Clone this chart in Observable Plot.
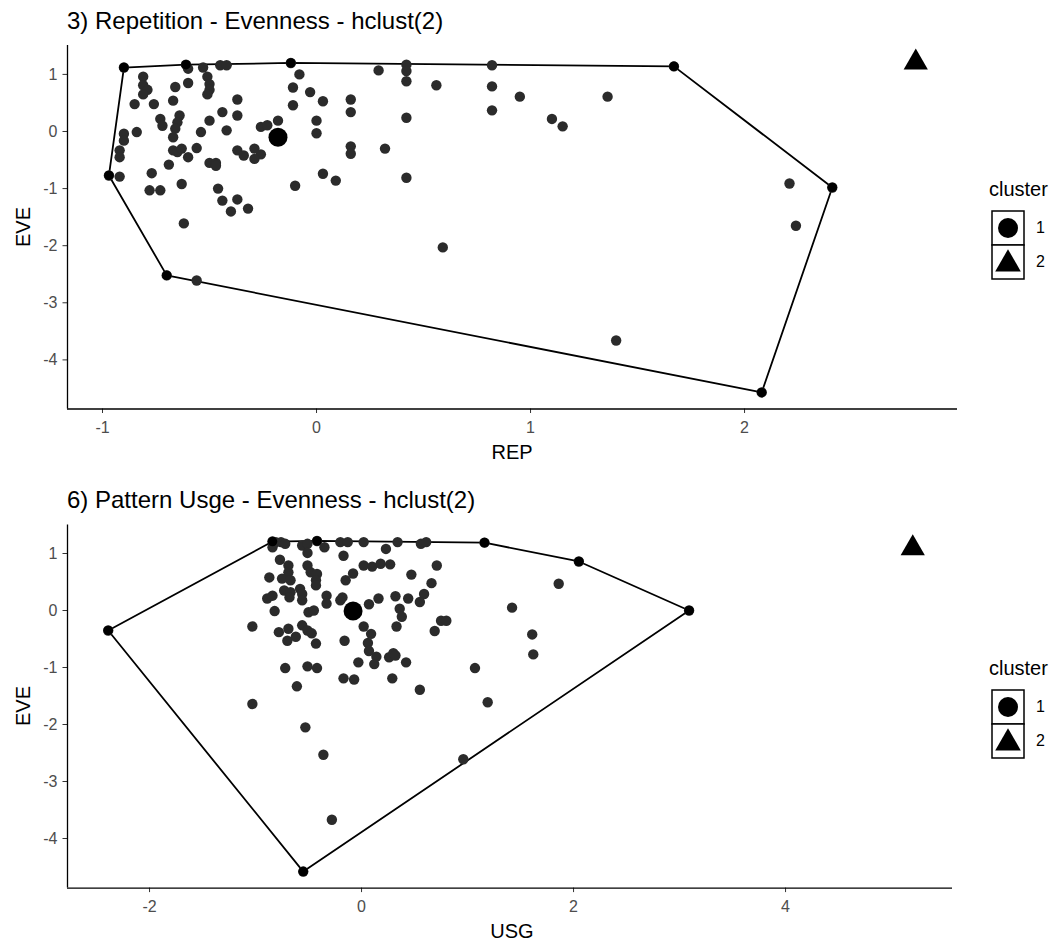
<!DOCTYPE html>
<html><head><meta charset="utf-8">
<script src="https://cdn.jsdelivr.net/npm/d3@7"></script>
<script src="https://cdn.jsdelivr.net/npm/@observablehq/plot@0.6"></script>
<style>
body{margin:0;background:#fff;font-family:"Liberation Sans",Arial,sans-serif;}
#root{position:relative;width:1056px;height:945px;overflow:hidden;background:#fff}
.abs{position:absolute;white-space:nowrap;line-height:1;color:#000}
</style></head><body><div id="root"></div>
<script>
// ---------- Panel 3: Repetition (REP) vs Evenness (EVE) ----------
const repTitle = "3) Repetition - Evenness - hclust(2)";
const repXLabel = "REP";
const repYLabel = "EVE";
const repXTicks = [-1, 0, 1, 2];
const repYTicks = [-4, -3, -2, -1, 0, 1];
const repCluster1 = [
  [-0.90,1.12],[-0.61,1.17],[-0.60,1.10],[-0.53,1.12],[-0.45,1.16],[-0.42,1.16],[-0.12,1.20],
  [-0.81,0.96],[-0.81,0.81],[-0.79,0.73],[-0.81,0.65],[-0.85,0.48],[-0.76,0.48],[-0.66,0.78],[-0.60,0.85],[-0.67,0.54],
  [-0.51,0.96],[-0.50,0.83],[-0.50,0.73],[-0.51,0.65],
  [-0.08,1.00],[-0.11,0.77],[-0.03,0.69],[0.03,0.53],[0.16,0.56],[0.16,0.34],[-0.11,0.46],
  [-0.37,0.56],[-0.44,0.34],[-0.37,0.28],[-0.50,0.19],[-0.73,0.22],[-0.72,0.10],
  [-0.64,0.28],[-0.65,0.16],[-0.66,0.05],[-0.67,-0.10],
  [-0.84,-0.01],[-0.90,-0.04],[-0.90,-0.16],[-0.92,-0.33],[-0.92,-0.45],[-0.97,-0.77],[-0.92,-0.79],
  [-0.54,-0.01],[-0.42,0.02],[-0.26,0.08],[-0.23,0.11],[-0.18,0.19],
  [0.00,0.19],[0.00,-0.03],[0.16,-0.26],[0.16,-0.39],
  [-0.67,-0.33],[-0.65,-0.36],[-0.63,-0.30],[-0.60,-0.45],[-0.56,-0.29],[-0.69,-0.58],
  [-0.50,-0.55],[-0.47,-0.55],[-0.47,-0.60],[-0.37,-0.33],[-0.34,-0.42],[-0.29,-0.30],[-0.26,-0.40],[-0.29,-0.48],
  [-0.77,-0.73],[-0.78,-1.03],[-0.73,-1.03],[-0.63,-0.92],[-0.46,-1.00],[-0.44,-1.21],[-0.37,-1.19],[-0.40,-1.40],[-0.32,-1.35],[-0.62,-1.61],
  [-0.10,-0.95],[0.03,-0.74],[0.09,-0.86],
  [0.29,1.07],[0.42,1.17],[0.42,1.06],[0.42,0.88],[0.56,0.81],[0.82,1.16],[0.82,0.79],[0.82,0.37],[0.95,0.61],[1.36,0.61],[1.67,1.14],
  [1.10,0.22],[1.15,0.09],[0.42,0.24],[0.32,-0.30],[0.42,-0.81],[0.59,-2.03],
  [2.21,-0.91],[2.24,-1.65],[2.41,-0.98],[1.40,-3.66],[2.08,-4.57],[-0.70,-2.52],[-0.56,-2.61]
];
const repCentroid1 = [-0.18, -0.10];
const repCluster2 = [[2.80, 1.21]];

// ---------- Panel 6: Pattern Usage (USG) vs Evenness (EVE) ----------
const usgTitle = "6) Pattern Usge - Evenness - hclust(2)";
const usgXLabel = "USG";
const usgYLabel = "EVE";
const usgXTicks = [-2, 0, 2, 4];
const usgYTicks = [-4, -3, -2, -1, 0, 1];
const usgCluster1 = [
  [-0.84,1.21],[-0.81,1.20],[-0.76,1.20],[-0.72,1.17],[-0.84,1.11],[-0.56,1.14],[-0.51,1.17],[-0.42,1.22],[-0.35,1.11],[-0.51,1.01],
  [-0.20,1.20],[-0.13,1.20],[0.02,1.20],[0.34,1.20],[0.56,1.17],[0.61,1.20],[1.16,1.19],
  [0.23,1.08],[-0.17,0.96],[-0.77,0.89],[-0.69,0.79],[-0.69,0.67],[-0.51,0.79],[-0.48,0.67],[-0.42,0.64],[-0.43,0.53],[-0.43,0.44],
  [-0.87,0.58],[-0.75,0.56],[-0.67,0.53],[-0.73,0.35],[-0.67,0.32],[-0.58,0.38],[-0.56,0.29],[-0.56,0.18],[-0.68,0.23],
  [-0.89,0.21],[-0.84,0.26],[-0.82,-0.01],[-1.03,-0.28],
  [-0.50,-0.03],[-0.45,0.00],[-0.33,0.26],[-0.33,0.12],[-0.20,0.18],[-0.18,0.23],[-0.15,0.53],[-0.08,0.65],
  [0.02,0.79],[0.10,0.77],[0.18,0.82],[0.27,0.81],[0.47,0.63],[0.71,0.79],[0.66,0.48],[0.59,0.29],[0.55,0.15],[0.44,0.21],
  [0.32,0.25],[0.36,0.03],[0.38,-0.11],[0.16,0.21],[0.07,0.11],
  [0.33,-0.28],[0.02,-0.28],[0.09,-0.41],[0.75,-0.18],[0.80,-0.18],[0.69,-0.36],
  [-0.78,-0.38],[-0.69,-0.32],[-0.70,-0.53],[-0.62,-0.46],[-0.56,-0.26],[-0.51,-0.35],[-0.47,-0.40],[-0.43,-0.58],[-0.16,-0.53],
  [0.06,-0.57],[0.07,-0.71],[0.14,-0.81],[0.12,-0.94],[0.26,-0.82],[0.30,-0.75],[0.32,-0.79],[0.42,-0.91],[-0.03,-0.91],
  [-0.72,-1.01],[-0.51,-0.98],[-0.42,-1.01],[-0.17,-1.19],[-0.07,-1.21],[0.29,-1.19],[0.55,-1.39],[-0.61,-1.33],[1.07,-1.01],
  [-1.03,-1.64],[-0.53,-2.05],[-0.36,-2.53],[-0.28,-3.67],[0.96,-2.61],[1.19,-1.61],
  [-2.39,-0.35],[-0.55,-4.58],[2.05,0.86],[1.86,0.47],[3.09,0.00],[1.42,0.05],[1.61,-0.42],[1.62,-0.77]
];
const usgCentroid1 = [-0.08, -0.01];
const usgCluster2 = [[5.20, 1.09]];

const legendTitle = "cluster";
const legendLabels = ["1", "2"];

const root = document.getElementById("root");
const FONT = '"Liberation Sans", Arial, sans-serif';

function addText(txt, css) {
  const d = document.createElement("div");
  d.className = "abs";
  d.textContent = txt;
  Object.assign(d.style, css);
  root.appendChild(d);
  return d;
}

function panel(cfg) {
  const hull = d3.polygonHull(cfg.points);
  const closed = hull.concat([hull[0]]);
  const fmt = d => String(d);
  const svg = Plot.plot({
    width: 1056, height: cfg.height,
    marginLeft: 67, marginRight: cfg.marginRight, marginTop: cfg.marginTop, marginBottom: cfg.marginBottom,
    style: {fontFamily: FONT, background: "transparent"},
    x: {domain: cfg.xDomain, ticks: cfg.xTicks},
    y: {domain: cfg.yDomain, ticks: cfg.yTicks},
    marks: [
      Plot.axisX(cfg.xTicks, {tickSize: 4.5, tickFormat: () => "", color: "#333", label: null}),
      Plot.axisX(cfg.xTicks, {tickSize: 0, tickPadding: 13, tickFormat: fmt, color: "#4d4d4d", fontSize: 16, label: null}),
      Plot.axisY(cfg.yTicks, {tickSize: 4.5, tickFormat: () => "", color: "#333", label: null}),
      Plot.axisY(cfg.yTicks, {tickSize: 0, tickPadding: 10, tickFormat: fmt, color: "#4d4d4d", fontSize: 16, label: null}),
      Plot.ruleY([cfg.yDomain[0]], {stroke: "#000", strokeWidth: 1.3}),
      Plot.ruleX([cfg.xDomain[0]], {stroke: "#000", strokeWidth: 1.3}),
      Plot.line(closed, {x: d => d[0], y: d => d[1], stroke: "#000", strokeWidth: 1.8}),
      Plot.dot(cfg.points, {x: d => d[0], y: d => d[1], r: 5.2, fill: "#2b2b2b"}),
      Plot.dot(hull, {x: d => d[0], y: d => d[1], r: 4.8, fill: "#000"}),
      Plot.dot([cfg.centroid], {x: d => d[0], y: d => d[1], r: 9.5, fill: "#000"}),
      Plot.dot(cfg.cluster2, {x: d => d[0], y: d => d[1], r: 9, symbol: "triangle", fill: "#000"})
    ]
  });
  svg.style.position = "absolute";
  svg.style.left = "0px";
  svg.style.top = cfg.top + "px";
  root.appendChild(svg);

  const T = cfg.top;
  addText(cfg.title, {left: "67px", top: (T + 8.5) + "px", fontSize: "24px"});
  addText(cfg.xLabel, {left: "512px", top: (T + 442) + "px", fontSize: "20px", transform: "translateX(-50%)"});
  const yc = T + cfg.marginTop + (cfg.height - cfg.marginTop - cfg.marginBottom) / 2;
  addText(cfg.yLabel, {left: "23px", top: yc + "px", fontSize: "20px", transform: "translate(-50%,-50%) rotate(-90deg)"});
  addText(legendTitle, {left: "989px", top: (T + 179) + "px", fontSize: "20px"});
  const ns = "http://www.w3.org/2000/svg";
  const lg = document.createElementNS(ns, "svg");
  lg.setAttribute("width", "40"); lg.setAttribute("height", "72");
  lg.style.position = "absolute"; lg.style.left = "988px"; lg.style.top = (T + 209) + "px";
  const keys = [{y: 2, shape: "circle"}, {y: 36, shape: "triangle"}];
  keys.forEach(k => {
    const r = document.createElementNS(ns, "rect");
    r.setAttribute("x", 4); r.setAttribute("y", k.y); r.setAttribute("width", 32); r.setAttribute("height", 34);
    r.setAttribute("fill", "#fff"); r.setAttribute("stroke", "#000"); r.setAttribute("stroke-width", 1.5);
    lg.appendChild(r);
    const p = document.createElementNS(ns, "path");
    const sym = d3.symbol(k.shape === "circle" ? d3.symbolCircle : d3.symbolTriangle, k.shape === "circle" ? Math.PI * 10 * 10 : Math.PI * 9.5 * 9.5);
    p.setAttribute("d", sym());
    p.setAttribute("transform", `translate(20,${k.y + 17 + (k.shape === "triangle" ? 2 : 0)})`);
    p.setAttribute("fill", "#000");
    lg.appendChild(p);
  });
  root.appendChild(lg);
  legendLabels.forEach((lab, i) => {
    addText(lab, {left: "1036px", top: (T + 220 + i * 34) + "px", fontSize: "16px"});
  });
}

panel({
  top: 0, height: 470, marginTop: 45, marginBottom: 61.5, marginRight: 99,
  xDomain: [-1.1636, 2.995], yDomain: [-4.86, 1.506],
  xTicks: repXTicks, yTicks: repYTicks,
  points: repCluster1, centroid: repCentroid1, cluster2: repCluster2,
  title: repTitle, xLabel: repXLabel, yLabel: repYLabel
});
panel({
  top: 479, height: 466, marginTop: 45.5, marginBottom: 57.4, marginRight: 104,
  xDomain: [-2.774, 5.575], yDomain: [-4.87, 1.50],
  xTicks: usgXTicks, yTicks: usgYTicks,
  points: usgCluster1, centroid: usgCentroid1, cluster2: usgCluster2,
  title: usgTitle, xLabel: usgXLabel, yLabel: usgYLabel
});
</script></body></html>
